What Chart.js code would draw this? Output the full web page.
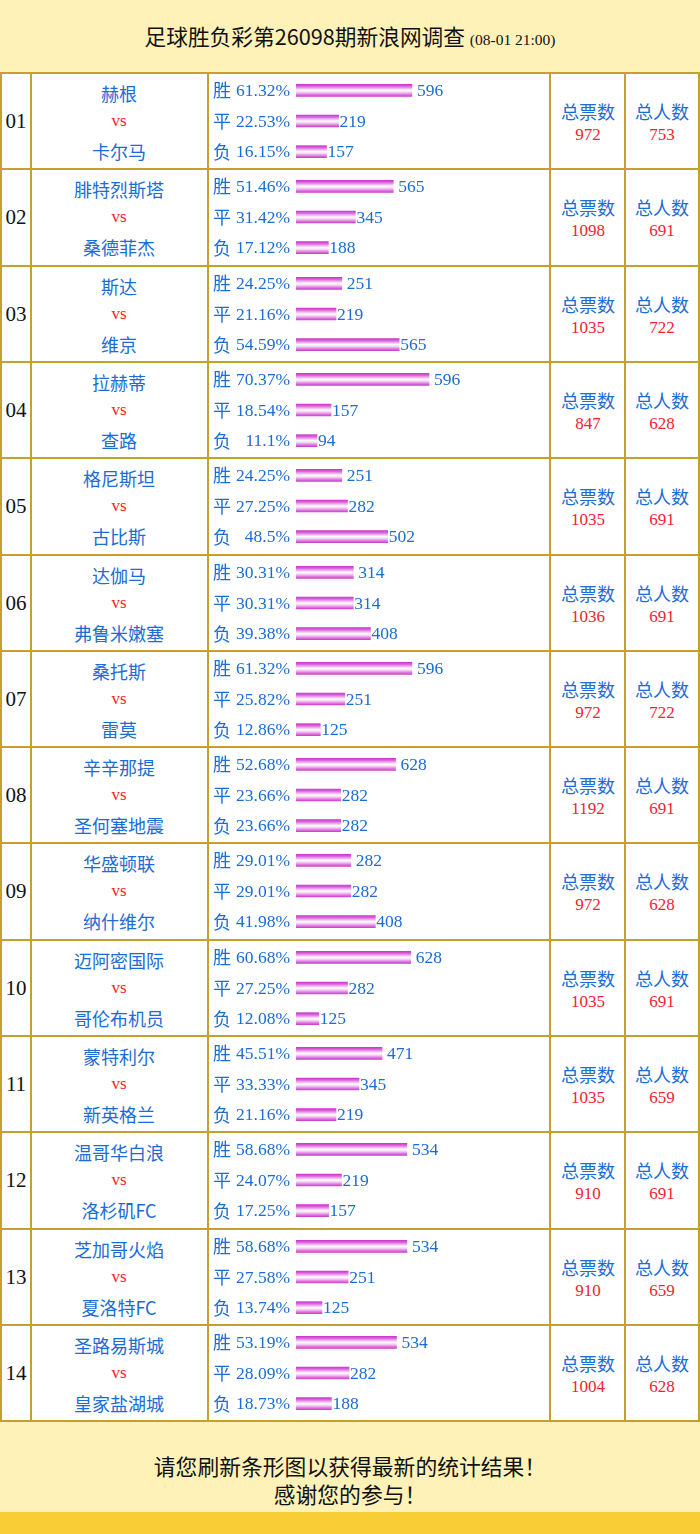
<!DOCTYPE html>
<html>
<head>
<meta charset="utf-8">
<script src="https://cdn.jsdelivr.net/npm/chart.js@4.4.1/dist/chart.umd.min.js"></script>
<style>
  html, body { margin: 0; padding: 0; background: #fff; }
  #page { position: relative; width: 700px; height: 1534px; overflow: hidden; }
  .abs { position: absolute; }
  .cjk { font-family: "Noto Sans CJK SC", "Noto Sans", sans-serif; }
  .serif { font-family: "Liberation Serif", "DejaVu Serif", serif; }
  .c { transform: translate(-50%, -50%); white-space: nowrap; line-height: 1; }
  canvas { display: block; }
</style>
</head>
<body>
<div id="page"></div>
<script>
const matchNo = ['01','02','03','04','05','06','07','08','09','10','11','12','13','14'];
const homeTeams = ['赫根','腓特烈斯塔','斯达','拉赫蒂','格尼斯坦','达伽马','桑托斯','辛辛那提','华盛顿联','迈阿密国际','蒙特利尔','温哥华白浪','芝加哥火焰','圣路易斯城'];
const awayTeams = ['卡尔马','桑德菲杰','维京','查路','古比斯','弗鲁米嫩塞','雷莫','圣何塞地震','纳什维尔','哥伦布机员','新英格兰','洛杉矶FC','夏洛特FC','皇家盐湖城'];
const outcomeLabels = ['胜','平','负'];
const winPct  = [61.32, 51.46, 24.25, 70.37, 24.25, 30.31, 61.32, 52.68, 29.01, 60.68, 45.51, 58.68, 58.68, 53.19];
const drawPct = [22.53, 31.42, 21.16, 18.54, 27.25, 30.31, 25.82, 23.66, 29.01, 27.25, 33.33, 24.07, 27.58, 28.09];
const losePct = [16.15, 17.12, 54.59, 11.1, 48.5, 39.38, 12.86, 23.66, 41.98, 12.08, 21.16, 17.25, 13.74, 18.73];
const winVotes  = [596, 565, 251, 596, 251, 314, 596, 628, 282, 628, 471, 534, 534, 534];
const drawVotes = [219, 345, 219, 157, 282, 314, 251, 282, 282, 282, 345, 219, 251, 282];
const loseVotes = [157, 188, 565, 94, 502, 408, 125, 282, 408, 125, 219, 157, 125, 188];
const totalVotes  = [972, 1098, 1035, 847, 1035, 1036, 972, 1192, 972, 1035, 1035, 910, 910, 1004];
const totalPeople = [753, 691, 722, 628, 691, 691, 722, 691, 628, 691, 659, 691, 659, 628];

const title = '足球胜负彩第26098期新浪网调查';
const titleTime = '(08-01 21:00)';
const footer1 = '请您刷新条形图以获得最新的统计结果！';
const footer2 = '感谢您的参与！';

const BLUE = '#1a6cd6';
const RED = '#f5222d';
const GOLD = '#c6a02e';
const page = document.getElementById('page');

function box(x, y, w, h, bg) {
  const d = document.createElement('div');
  d.className = 'abs';
  d.style.cssText += `left:${x}px;top:${y}px;width:${w}px;height:${h}px;background:${bg};`;
  page.appendChild(d);
  return d;
}
function text(str, x, y, cls, size, color) {
  const d = document.createElement('div');
  d.className = 'abs c ' + cls;
  d.style.cssText += `left:${x}px;top:${y}px;font-size:${size}px;color:${color};`;
  d.textContent = str;
  page.appendChild(d);
  return d;
}

// header / footer
box(0, 0, 700, 72, '#fff2b9');
const t = text('', 350, 36, 'cjk', 21.7, '#111');
t.innerHTML = title + ' <span class="serif" style="font-size:15.5px">' + titleTime + '</span>';
box(0, 1422, 700, 90, '#fff2b9');
box(0, 1512, 700, 22, '#f8cd35');
text(footer1, 350, 1466, 'cjk', 21.8, '#111');
text(footer2, 350, 1494, 'cjk', 21.8, '#111');

const rowH = 96.3, top0 = 72;
const colX = [0, 30, 207, 549, 624, 698];

// borders
for (let i = 0; i <= matchNo.length; i++) box(0, top0 + i * rowH, 700, 2, GOLD);
colX.forEach(x => box(x, top0, 2, rowH * matchNo.length + 2, GOLD));

// bar gradient, built per bar from the y scale
function barFill(ctx) {
  const chart = ctx.chart;
  const yS = chart.scales.y;
  if (ctx.type !== 'data' || !yS || !chart.chartArea) return '#d44fd4';
  const yc = yS.getPixelForValue(ctx.dataIndex);
  const g = chart.ctx.createLinearGradient(0, yc - 6, 0, yc + 6);
  g.addColorStop(0, '#cc36cc');
  g.addColorStop(0.17, '#db66db');
  g.addColorStop(0.33, '#eeaeee');
  g.addColorStop(0.5, '#ffffff');
  g.addColorStop(0.67, '#f5ccf5');
  g.addColorStop(0.83, '#e180e1');
  g.addColorStop(1, '#cd40cd');
  return g;
}

// labels left of bars and counts right of bars
const rowLabels = {
  id: 'rowLabels',
  afterDatasetsDraw(chart, args, opts) {
    const c = chart.ctx;
    const meta = chart.getDatasetMeta(0);
    c.save();
    c.textBaseline = 'middle';
    meta.data.forEach((bar, i) => {
      const y = bar.y;
      c.fillStyle = BLUE;
      c.font = '18px "Noto Sans CJK SC"';
      c.textAlign = 'left';
      c.fillText(outcomeLabels[i], 4, y);
      c.font = '17.5px "Liberation Serif"';
      c.textAlign = 'right';
      c.fillText(opts.pct[i] + '%', 81, y + 1);
      c.textAlign = 'left';
      c.fillText(String(opts.votes[i]), bar.x + (i === 0 ? 5 : 1), y + 1);
    });
    c.restore();
  }
};

matchNo.forEach((no, i) => {
  const rt = top0 + i * rowH + 2;
  text(no, 16, rt + 47, 'serif', 21, '#111');
  text(homeTeams[i], 119, rt + 19, 'cjk', 18, BLUE);
  text('vs', 119, rt + 46, 'serif', 17, RED);
  text(awayTeams[i], 119, rt + 77, 'cjk', 18, BLUE);
  text('总票数', 588, rt + 37, 'cjk', 18, BLUE);
  text(String(totalVotes[i]), 588, rt + 60, 'serif', 17, RED);
  text('总人数', 662, rt + 37, 'cjk', 18, BLUE);
  text(String(totalPeople[i]), 662, rt + 60, 'serif', 17, RED);

  const cv = document.createElement('canvas');
  cv.width = 340; cv.height = 94;
  cv.className = 'abs';
  cv.style.left = '209px';
  cv.style.top = rt + 'px';
  cv.style.width = '340px';
  cv.style.height = '94px';
  page.appendChild(cv);

  const pct = [winPct[i], drawPct[i], losePct[i]];
  const votes = [winVotes[i], drawVotes[i], loseVotes[i]];
  new Chart(cv, {
    type: 'bar',
    data: {
      labels: outcomeLabels,
      datasets: [{
        data: pct,
        backgroundColor: barFill,
        borderWidth: 0,
        barThickness: 12,
      }],
    },
    options: {
      indexAxis: 'y',
      responsive: false,
      animation: false,
      layout: { padding: { left: 87, right: 64, top: 1, bottom: 1 } },
      scales: {
        x: { min: 0, max: 100, display: false },
        y: { display: false },
      },
      plugins: {
        legend: { display: false },
        tooltip: { enabled: false },
        rowLabels: { pct: pct, votes: votes },
      },
    },
    plugins: [rowLabels],
  });
});
</script>
</body>
</html>
